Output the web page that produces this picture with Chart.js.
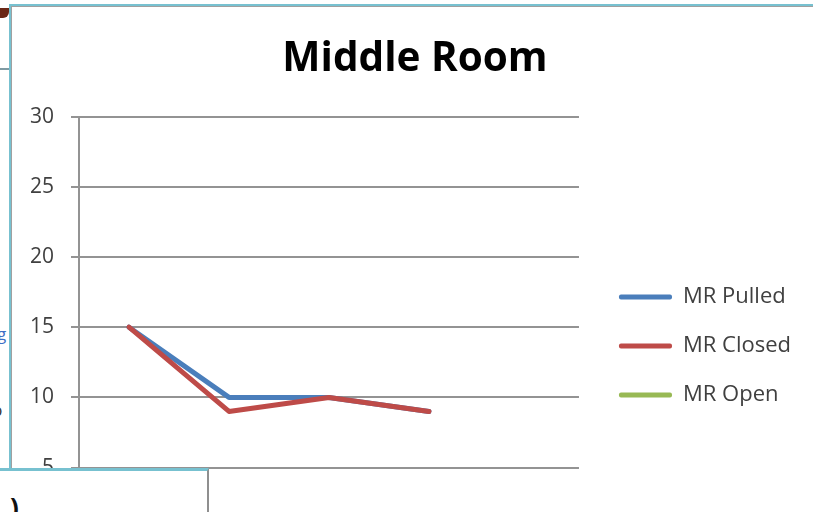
<!DOCTYPE html>
<html>
<head>
<meta charset="utf-8">
<script src="https://cdn.jsdelivr.net/npm/chart.js@4.4.0/dist/chart.umd.min.js"></script>
<style>
  html, body { margin: 0; padding: 0; background: #fff; overflow: hidden; width: 813px; height: 512px; position: relative; }
  .blob { position: absolute; left: 0; top: 8px; width: 9px; height: 10px; background: #6a2716; border-radius: 0 0 6px 0; }
  .rule { position: absolute; left: 0; top: 68px; width: 9px; height: 2px; background: #7f9aa3; }
  .link { position: absolute; left: -22px; top: 322px; font: 17px "Open Sans", sans-serif; color: #3b6fc4; text-decoration: underline; }
  .frag { position: absolute; left: -8px; top: 398px; font: 17px "Open Sans", sans-serif; color: #333; }
  #frame { position: absolute; left: 9px; top: 4px; width: 830px; height: 720px; border-top: 2px solid #77c1d0; border-left: 2px solid #77c1d0; box-shadow: inset 1px 1px 0 #a0a0a0; background: #fff; }
  #chart { position: absolute; left: 0; top: 0; }
  #pane { position: absolute; left: 0; top: 468px; width: 207px; height: 80px; border-top: 3px solid #77c1d0; border-right: 2px solid #8f8f8f; background: #fff; }
  #pane span { position: absolute; left: 10px; top: 18px; font: bold 26px "Open Sans", sans-serif; color: #111; }
</style>
</head>
<body>
<div class="blob"></div>
<div class="rule"></div>
<span class="link">Log</span>
<span class="frag">b</span>
<div id="frame"><canvas id="chart" width="808" height="680"></canvas></div>
<div id="pane"><span>)</span></div>
<script>
const categories = ['1', '2', '3', '4', '5'];
const mrPulled = [15, 10, 10, 9, null];
const mrClosed = [15, 9, 10, 9, null];
const mrOpen = [null, null, null, null, null];
const yMin = 0, yMax = 30, yStep = 5;

const gridColor = '#939393';
const textColor = '#404040';

const ctxChart = document.getElementById('chart');

function series(label, data, color, order) {
    return {
        label: label,
        data: data,
        borderColor: color,
        backgroundColor: color,
        borderWidth: 5,
        borderCapStyle: 'round',
        borderJoinStyle: 'round',
        pointRadius: 0,
        tension: 0,
        spanGaps: false,
        order: order
    };
}

// invisible scale used only to reserve room next to the plot
function spacer(position, size) {
    return {
        position: position,
        display: true,
        afterFit(scale) {
            if (scale.isHorizontal()) scale.height = size; else scale.width = size;
        },
        grid: { display: false },
        border: { display: false },
        ticks: { display: false }
    };
}

const chart = new Chart(ctxChart, {
    type: 'line',
    data: {
        labels: categories,
        datasets: [
            series('MR Pulled', mrPulled, '#4a7ebb', 3),
            series('MR Closed', mrClosed, '#be4b48', 2),
            series('MR Open', mrOpen, '#98b954', 1)
        ]
    },
    options: {
        responsive: false,
        animation: false,
        devicePixelRatio: 1,
        layout: { padding: { left: 18, right: 18, top: 0, bottom: 0 } },
        plugins: {
            title: {
                display: true,
                text: 'Middle Room',
                color: '#000',
                font: { family: 'Open Sans', size: 40.5, weight: 'bold' },
                padding: { top: 29, bottom: 33 }
            },
            legend: {
                position: 'right',
                maxWidth: 260,
                labels: {
                    color: textColor,
                    font: { family: 'Open Sans', size: 22 },
                    boxWidth: 53,
                    boxHeight: 5,
                    padding: 27,
                    useBorderRadius: true,
                    borderRadius: 2,
                    sort: (a, b) => a.datasetIndex - b.datasetIndex,
                    generateLabels(c) {
                        const items = Chart.defaults.plugins.legend.labels.generateLabels(c);
                        items.forEach(it => {
                            it.lineWidth = 0;
                            it.fillStyle = it.strokeStyle;
                            it.borderRadius = 2;
                        });
                        return items;
                    }
                }
            },
            tooltip: { enabled: false }
        },
        scales: {
            x: {
                offset: true,
                grid: { display: false, drawTicks: true, tickLength: 8, color: gridColor },
                border: { display: true, color: gridColor, width: 2 },
                ticks: { color: textColor, font: { family: 'Open Sans', size: 21 } }
            },
            y: {
                min: yMin,
                max: yMax,
                afterFit(scale) { scale.width = 50; },
                grid: { color: gridColor, lineWidth: 2, tickLength: 8, tickColor: gridColor },
                border: { display: true, color: gridColor, width: 2 },
                ticks: {
                    stepSize: yStep,
                    padding: 17,
                    color: textColor,
                    font: { family: 'Open Sans', size: 21 }
                }
            },
            gapRight: spacer('right', 13),
            gapBottom: spacer('bottom', 109)
        }
    }
});
</script>
</body>
</html>
